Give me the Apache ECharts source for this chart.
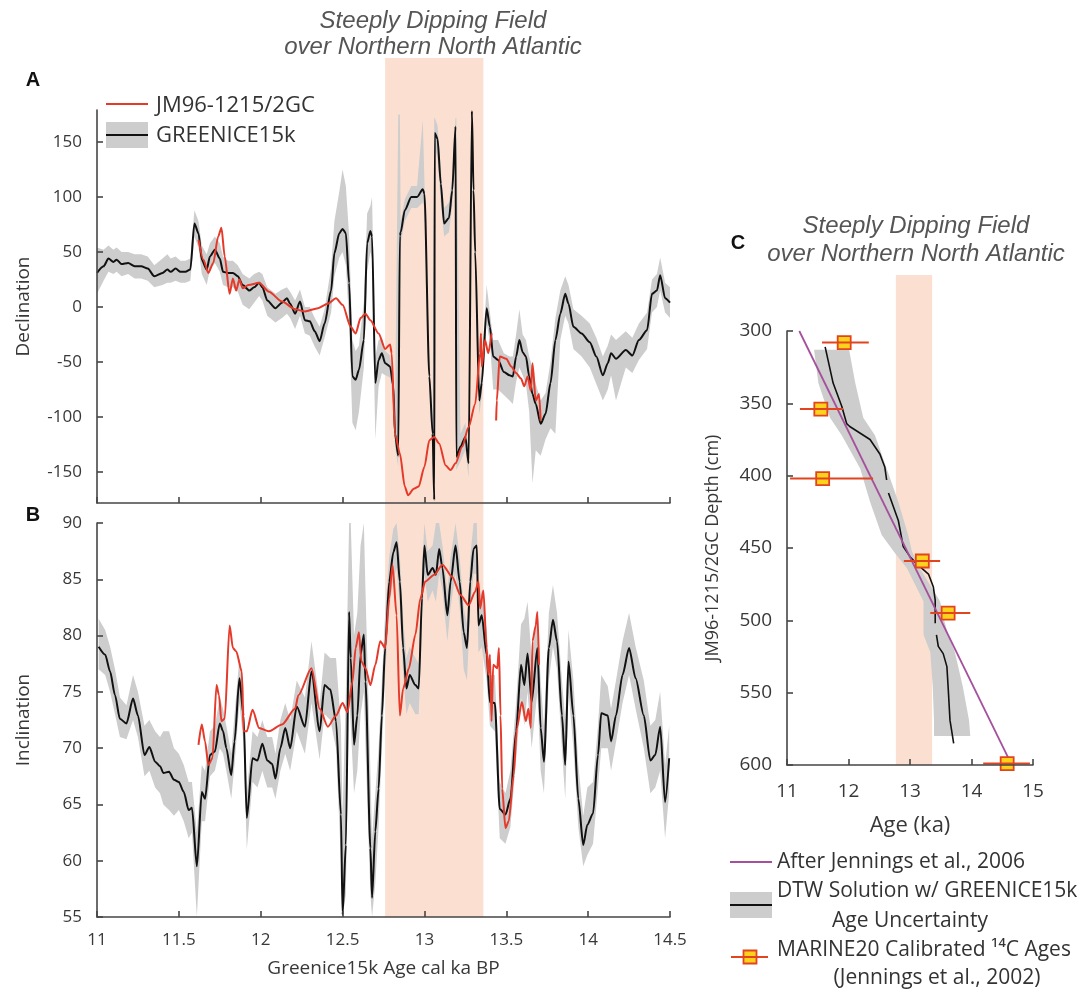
<!DOCTYPE html>
<html>
<head>
<meta charset="utf-8">
<script src="https://cdn.jsdelivr.net/npm/echarts@6/dist/echarts.min.js"></script>
<style>
  html, body { margin: 0; padding: 0; background: #fff; }
  #chart { width: 1090px; height: 991px; }
</style>
</head>
<body>
<div id="chart"></div>
<script>
// ---------- Shared interval of the steeply dipping field (ka) ----------
const shadeAB = [12.76, 13.36];
const shadeC = [12.77, 13.36];

// ---------- Panel A: declination ----------
const decAge = [11.00,11.04,11.07,11.10,11.12,11.15,11.19,11.23,11.27,11.31,11.35,11.40,11.43,11.45,11.48,11.51,11.54,11.57,11.595,11.62,
  11.64,11.67,11.69,11.72,11.75,11.77,11.80,11.83,11.86,11.89,11.93,11.96,11.99,12.01,12.04,12.09,12.13,12.16,12.18,12.21,
  12.24,12.27,12.30,12.33,12.36,12.39,12.43,12.45,12.48,12.50,12.52,12.54,12.56,12.58,12.60,12.63,12.65,12.67,12.68,12.70,
  12.72,12.74,12.76,12.79,12.81,12.82,12.84,12.85,12.855,12.88,12.92,12.955,12.99,13.00,13.03,13.05,13.06,13.063,13.08,13.10,
  13.12,13.15,13.17,13.19,13.195,13.22,13.25,13.27,13.29,13.30,13.31,13.335,13.35,13.38,13.40,13.42,13.45,13.485,13.52,13.54,
  13.56,13.58,13.60,13.62,13.64,13.66,13.68,13.71,13.74,13.77,13.80,13.83,13.86,13.88,13.91,13.96,14.01,14.05,14.09,14.12,
  14.14,14.17,14.23,14.27,14.31,14.36,14.39,14.42,14.44,14.47,14.50];
const decVal = [31,37,44,41,43,39,40,37,37,35,28,31,34,32,35,32,32,34,76,67,
  43,34,46,52,44,32,31,31,28,20,15,18,22,18,6,-1,4,8,3,-6,
  5,-12,-13,-22,-31,-15,15,49,67,71,67,22,-63,-66,-57,-30,58,69,64,-69,
  -48,-42,-51,-54,-72,-115,-135,65,68,88,100,100,107,103,-63,-115,-175,158,153,112,
  76,81,106,164,-136,-127,-118,-142,178,106,50,-85,-69,-1,-18,-45,-48,-59,-62,-63,
  -45,-30,-41,-45,-63,-79,-88,-106,-97,-69,-30,-6,12,3,-18,-24,-32,-45,-62,-51,
  -42,-47,-39,-44,-30,-21,12,15,29,8,4];
const decLo = [12,24,32,30,32,28,30,26,26,24,18,20,22,22,24,22,22,24,64,54,
  30,20,34,40,32,20,18,18,14,2,-2,4,10,6,-8,-14,-10,-6,-10,-20,
  -8,-24,-26,-36,-44,-28,-5,28,45,50,38,-15,-105,-112,-95,-55,32,50,44,-120,
  -72,-60,-62,-64,-84,-126,-145,52,58,78,90,90,95,90,-75,-125,-178,145,135,95,
  64,68,92,150,-148,-140,-130,-155,160,90,35,-98,-82,-15,-32,-75,-75,-80,-85,-88,
  -68,-55,-62,-70,-95,-160,-130,-135,-120,-110,-115,-30,-8,-15,-38,-45,-55,-70,-85,-75,
  -62,-85,-55,-60,-48,-38,-5,0,15,-5,-10];
const decHi = [54,52,56,52,54,50,50,48,48,46,38,44,48,44,46,42,42,44,88,78,
  56,48,58,64,58,46,42,42,38,30,26,30,32,30,18,12,16,18,14,6,
  16,0,0,-10,-18,-2,36,78,105,125,110,65,-30,-40,-35,5,85,92,100,-45,
  -30,-28,-40,-44,-60,-100,175,175,78,98,110,110,170,115,-50,-100,172,172,165,125,
  90,95,120,172,172,-115,-105,-128,178,120,65,-70,-55,20,-5,-30,-30,-42,-45,-45,
  -25,-2,-25,-30,-45,-55,-70,-85,-78,-50,-10,15,28,20,-2,-8,-15,-28,-45,-35,
  -25,-30,-22,-28,-15,-5,25,30,45,22,18];

const jmDecAge = [11.62,11.65,11.68,11.71,11.74,11.76,11.78,11.81,11.83,11.85,11.87,11.89,11.925,11.99,12.05,12.13,12.21,12.27,12.35,12.41,
  12.46,12.50,12.55,12.58,12.61,12.64,12.67,12.72,12.76,12.79,12.80,12.82,12.85,12.88,12.90,12.935,12.965,13.00,13.03,13.06,
  13.09,13.13,13.16,13.19,13.23,13.27,13.31,13.34,13.345,13.35,13.37,13.39,13.41,13.425,13.438,13.442,13.46,13.50,13.53,13.56,
  13.59,13.61,13.63,13.65,13.66,13.68,13.70,13.71];
const jmDecVal = [61,43,31,40,64,72,46,12,26,15,25,17,20,22,14,5,-2,-4,-1,3,
  8,2,-18,-24,-10,-6,-12,-24,-38,-34,-42,-115,-133,-163,-171,-165,-163,-145,-121,-118,
  -124,-144,-148,-142,-127,-109,-88,-42,-24,-54,-30,-42,-24,null,-103,-85,-45,-47,-54,-60,
  -65,-72,-63,-76,-51,-85,-79,-103];

// ---------- Panel B: inclination ----------
const incAge = [11.01,11.05,11.08,11.11,11.14,11.18,11.22,11.25,11.29,11.32,11.355,11.385,11.405,11.44,11.47,11.50,11.53,11.56,11.58,11.61,
  11.64,11.66,11.69,11.72,11.75,11.77,11.79,11.82,11.84,11.87,11.895,11.915,11.95,11.98,12.01,12.04,12.07,12.09,12.12,12.15,
  12.18,12.22,12.27,12.31,12.36,12.39,12.425,12.46,12.49,12.50,12.52,12.54,12.55,12.57,12.59,12.61,12.63,12.64,12.67,12.68,
  12.70,12.72,12.74,12.76,12.785,12.81,12.83,12.85,12.87,12.89,12.91,12.945,12.965,12.985,13.00,13.02,13.05,13.07,13.09,13.11,
  13.14,13.16,13.19,13.215,13.24,13.26,13.28,13.30,13.32,13.33,13.35,13.38,13.40,13.43,13.46,13.495,13.525,13.56,13.59,13.61,
  13.63,13.655,13.69,13.71,13.73,13.76,13.785,13.81,13.84,13.86,13.88,13.91,13.94,13.97,13.995,14.03,14.06,14.08,14.12,14.14,
  14.17,14.21,14.25,14.29,14.34,14.38,14.41,14.44,14.47,14.495];
const incVal = [79.0,78.3,76.8,74.7,72.6,72.2,74.4,72.9,69.4,70.1,68.8,68.4,67.8,67.9,67.2,67.0,66.1,64.5,64.7,59.5,
  66.1,65.5,69.4,69.7,72.2,71.5,70.0,67.6,70.6,76.2,72.9,63.8,69.1,68.9,70.4,68.9,68.6,67.3,70.0,71.8,
  70.0,73.7,71.9,76.8,71.5,75.6,75.2,72.4,64.1,55.2,61.4,82.1,78.0,70.3,72.9,78.3,80.1,75.9,61.1,56.7,
  62.6,66.4,72.9,78.9,84.8,87.4,88.3,84.8,78.9,75.3,76.5,75.6,75.3,83.3,88.0,85.4,86.0,85.4,87.7,86.0,
  81.8,84.8,88.0,84.8,80.3,78.9,84.8,87.7,88.0,80.9,81.8,78.3,74.1,74.0,64.6,64.1,65.5,71.5,77.4,75.6,
  78.4,74.1,78.9,71.8,68.8,78.9,81.4,79.5,72.9,68.5,77.7,72.9,65.5,61.4,63.2,64.2,69.4,73.1,72.9,70.6,
  72.9,76.5,78.9,76.2,72.9,68.9,69.4,71.9,65.2,69.1];
const incLo = [77.0,76.5,75.0,73.0,71.0,70.8,72.5,71.0,67.5,68.0,66.5,66.0,65.0,64.5,64.0,64.5,63.5,62.0,62.5,55.0,
  63.5,63.5,67.5,68.0,70.0,69.5,68.0,65.5,68.5,74.0,70.5,61.0,67.0,66.5,68.0,66.5,66.5,65.5,68.0,69.5,
  68.0,71.5,69.5,74.0,69.0,73.0,72.5,70.0,60.0,55.0,57.0,75.0,72.0,66.0,68.0,73.0,75.0,70.0,57.0,55.0,
  58.0,63.0,70.0,76.5,82.5,85.0,86.0,82.5,76.5,73.0,74.0,73.0,73.0,81.0,85.5,83.0,84.0,83.0,85.5,84.0,
  79.5,82.5,85.5,82.5,77.0,76.0,82.5,85.5,85.5,78.5,79.0,76.0,72.0,71.5,62.0,61.5,63.0,69.0,74.5,72.0,
  75.0,70.0,75.0,68.0,66.0,76.0,79.0,77.0,70.0,65.5,75.0,70.0,63.0,59.5,60.5,61.5,66.5,70.0,70.0,68.0,
  70.5,74.0,76.5,73.5,70.0,66.0,66.5,68.0,62.0,66.0];
const incHi = [81.5,80.5,79.0,77.0,74.5,73.8,76.5,75.0,72.0,72.5,71.5,71.0,71.5,71.5,70.0,69.5,68.5,67.0,67.0,62.5,
  68.5,68.0,71.5,72.0,74.5,73.5,72.0,69.5,73.0,78.0,75.5,66.0,71.5,71.0,72.5,71.0,71.0,69.5,72.5,74.0,
  72.5,76.0,74.5,79.5,74.0,78.5,78.0,78.0,72.0,64.0,75.0,90.0,90.0,80.0,82.0,88.0,90.0,84.0,68.0,62.0,
  66.0,70.0,76.0,82.0,87.0,89.5,90.0,87.0,81.5,78.0,79.0,78.0,77.5,86.0,90.0,87.5,88.0,90.0,90.0,88.0,
  84.0,87.0,90.0,87.0,82.5,81.0,87.0,90.0,90.0,83.0,84.0,80.5,76.5,76.5,67.0,66.0,68.0,74.0,81.0,81.5,
  83.0,78.0,82.0,76.0,72.0,82.0,84.5,82.0,76.0,72.5,80.5,76.0,68.5,64.0,66.5,67.0,72.0,76.5,75.5,73.5,
  76.0,79.5,82.0,79.0,76.0,72.0,72.5,75.0,68.5,72.0];

const jmIncAge = [11.62,11.64,11.66,11.68,11.705,11.73,11.745,11.76,11.78,11.81,11.83,11.85,11.885,11.895,11.915,11.95,11.99,12.05,12.13,12.21,
  12.23,12.31,12.36,12.41,12.46,12.50,12.53,12.56,12.58,12.60,12.615,12.64,12.67,12.70,12.73,12.76,12.785,12.805,12.83,12.85,
  12.87,12.905,12.945,12.975,13.005,13.06,13.11,13.17,13.22,13.27,13.31,13.33,13.34,13.36,13.38,13.39,13.40,13.41,13.42,13.445,
  13.455,13.465,13.475,13.495,13.515,13.545,13.565,13.595,13.62,13.635,13.65,13.66,13.68,13.69,13.70];
const jmIncVal = [70.3,72.1,70.6,68.5,69.1,75.6,74.7,72.4,72.6,80.9,78.9,78.6,76.8,71.5,71.5,73.4,71.8,71.5,72.1,73.5,
  74.7,77.1,73.5,71.9,72.9,74.0,73.2,75.9,78.9,80.3,77.7,77.1,75.6,77.4,79.5,78.9,83.3,86.3,81.8,72.9,
  75.3,77.1,80.1,83.3,84.8,85.4,86.3,85.2,83.6,82.7,83.9,84.8,82.4,84.0,78.9,76.5,78.3,72.4,77.4,77.1,
  78.9,72.9,66.4,62.9,63.5,67.6,71.8,74.1,72.4,73.5,71.8,79.5,80.9,82.1,77.4];

// ---------- Panel C: age-depth model ----------
const jenAge = [11.2, 14.62];
const jenDepth = [300, 597];

const dtwAge = [11.62,11.75,11.89,11.97,12.02,12.35,12.51,12.59,12.62,null,12.65,12.81,12.89,13.00,13.11,13.30,13.38,13.41,13.41,null,
  13.43,13.46,13.54,13.60,13.62,13.65,13.71];
const dtwDepth = [311,336,352,364,366,375,385,394,403,null,412,431,449,456,461,468,477,486,502,null,
  510,518,523,532,546,569,585];

const dtwBandDepth = [313,336,360,372,395,418,441,452,464,487,499,510,522,546,569,580];
const dtwBandLo = [11.44,11.51,11.70,11.89,12.19,12.35,12.54,12.73,12.95,13.22,13.22,13.22,13.33,13.37,13.39,13.39];
const dtwBandHi = [12.01,12.11,12.24,12.43,12.62,12.81,12.97,13.03,13.16,13.49,13.55,13.62,13.73,13.86,13.96,13.98];

const c14Age = [11.93, 11.55, 11.58, 13.20, 13.62, 14.58];
const c14Depth = [308, 354, 402, 459, 495, 599];
const c14Lo = [11.57, 11.21, 11.05, 12.90, 13.33, 14.19];
const c14Hi = [12.33, 11.91, 12.40, 13.49, 13.98, 14.95];

// ---------- Styling ----------
const AXC = '#464646';
const TXC = '#383838';
const FONT = '"Open Sans", Lato, sans-serif';
const TFONT = '"Liberation Sans", Arial, sans-serif';
const RED = '#e5392a';
const BAND = '#cdcdcd';
const SHADE = '#fbe0d1';
const PURPLE = '#a5509c';
const YEL = '#fdd21a';
const MRED = '#e2441f';

const zip = (xs, ys) => xs.map((x, i) => [x, ys[i]]);

function valueAxis(grid, opt) {
  return Object.assign({
    gridIndex: grid, type: 'value', z: 10,
    axisLine: { show: true, onZero: false, lineStyle: { color: AXC, width: 1.6 } },
    axisTick: { show: true, inside: true, length: 6, lineStyle: { color: AXC, width: 1.6 } },
    axisLabel: { show: true, color: TXC, fontSize: 17, fontFamily: FONT, margin: 15 },
    splitLine: { show: false },
    nameTextStyle: { color: TXC, fontSize: 19, fontFamily: FONT }
  }, opt);
}
function hiddenAxis(grid, min, max) {
  return { gridIndex: grid, type: 'value', min, max, show: false, splitLine: { show: false } };
}

// Gray uncertainty envelope drawn as one polygon through the axis scales
function envelope(xi, yi, xs, lo, hi) {
  return {
    type: 'custom', xAxisIndex: xi, yAxisIndex: yi, z: 2, silent: true,
    data: [[xs[0], lo[0]]],
    renderItem: (params, api) => {
      const pts = [];
      for (let i = 0; i < xs.length; i++) pts.push(api.coord([xs[i], hi[i]]));
      for (let i = xs.length - 1; i >= 0; i--) pts.push(api.coord([xs[i], lo[i]]));
      return { type: 'polygon', shape: { points: pts }, style: { fill: BAND } };
    }
  };
}
function shade(xi, yi, range) {
  return {
    type: 'custom', xAxisIndex: xi, yAxisIndex: yi, z: 1, silent: true,
    data: [[range[0], 0]],
    renderItem: (params, api) => {
      const a = api.coord([range[0], 1]);
      const b = api.coord([range[1], 0]);
      return { type: 'rect', shape: { x: a[0], y: a[1], width: b[0] - a[0], height: b[1] - a[1] }, style: { fill: SHADE } };
    }
  };
}
function line(xi, yi, data, color, width, z, smooth) {
  return {
    type: 'line', xAxisIndex: xi, yAxisIndex: yi, data, z: z || 3,
    showSymbol: false, symbol: 'none', connectNulls: false, silent: true,
    smooth: smooth || false, smoothMonotone: 'x',
    lineStyle: { color, width, join: 'round' }, emphasis: { disabled: true }
  };
}

const pegsC = c14Age.map((a, i) => [a, c14Depth[i], c14Lo[i], c14Hi[i]]);

const chart = echarts.init(document.getElementById('chart'), null, { renderer: 'canvas' });

const labelC = { show: true, color: TXC, fontSize: 19, fontFamily: FONT };
const legendText = (x, y, text, size, align) => ({
  type: 'text', x, y,
  style: { text, textAlign: align || 'left', textVerticalAlign: 'middle', fontSize: size, fontFamily: FONT, fill: '#333' }
});
const titleText = (x, y, text) => ({
  type: 'text', x, y,
  style: { text, textAlign: 'center', textVerticalAlign: 'middle', fontSize: 24, fontStyle: 'italic', fontFamily: TFONT, fill: '#555555' }
});
const panelTag = (x, y, text) => ({
  type: 'text', x, y,
  style: { text, textAlign: 'center', textVerticalAlign: 'middle', fontSize: 20, fontWeight: 'bold', fontFamily: TFONT, fill: '#111' }
});

chart.setOption({
  animation: false,
  backgroundColor: '#ffffff',
  grid: [
    { left: 97, top: 110, width: 573, height: 393 },
    { left: 97, top: 523, width: 573, height: 394 },
    { left: 787, top: 331, width: 246, height: 434 },
    { left: 97, top: 58, width: 573, height: 859 },
    { left: 787, top: 275, width: 246, height: 490 }
  ],
  xAxis: [
    valueAxis(0, { min: 11, max: 14.5, interval: 0.5, axisLabel: { show: false } }),
    valueAxis(1, { min: 11, max: 14.5, interval: 0.5,
      axisLabel: { show: true, color: TXC, fontSize: 17, fontFamily: FONT, margin: 15 },
      name: 'Greenice15k Age cal ka BP', nameLocation: 'middle', nameGap: 42 }),
    valueAxis(2, { min: 11, max: 15, interval: 1,
      axisLabel: Object.assign({ margin: 17 }, labelC),
      name: 'Age (ka)', nameLocation: 'middle', nameGap: 50,
      nameTextStyle: { color: TXC, fontSize: 22, fontFamily: FONT } }),
    hiddenAxis(3, 11, 14.5),
    hiddenAxis(4, 11, 15)
  ],
  yAxis: [
    valueAxis(0, { min: -178, max: 179,
      axisTick: { show: true, inside: true, length: 6, lineStyle: { color: AXC, width: 1.6 },
        customValues: [-150, -100, -50, 0, 50, 100, 150] },
      axisLabel: { show: true, color: TXC, fontSize: 17, fontFamily: FONT, margin: 15,
        customValues: [-150, -100, -50, 0, 50, 100, 150] },
      name: 'Declination', nameLocation: 'middle', nameGap: 64 }),
    valueAxis(1, { min: 55, max: 90, interval: 5,
      name: 'Inclination', nameLocation: 'middle', nameGap: 64 }),
    valueAxis(2, { min: 300, max: 600, interval: 50, inverse: true,
      axisLabel: Object.assign({ margin: 15 }, labelC),
      name: 'JM96-1215/2GC Depth (cm)', nameLocation: 'middle', nameGap: 65,
      nameTextStyle: { color: TXC, fontSize: 18, fontFamily: FONT } }),
    hiddenAxis(3, 0, 1),
    hiddenAxis(4, 0, 1)
  ],
  series: [
    shade(3, 3, shadeAB),
    shade(4, 4, shadeC),

    envelope(0, 0, decAge, decLo, decHi),
    line(0, 0, zip(decAge, decVal), '#111111', 2, 3, 0.25),
    line(0, 0, zip(jmDecAge, jmDecVal), RED, 2, 4, 0.25),

    envelope(1, 1, incAge, incLo, incHi),
    line(1, 1, zip(incAge, incVal), '#111111', 2, 3, 0.25),
    line(1, 1, zip(jmIncAge, jmIncVal), RED, 2, 4, 0.25),

    {
      type: 'custom', xAxisIndex: 2, yAxisIndex: 2, z: 2, silent: true,
      data: [[dtwBandLo[0], dtwBandDepth[0]]],
      renderItem: (params, api) => {
        const pts = [];
        for (let i = 0; i < dtwBandDepth.length; i++) pts.push(api.coord([dtwBandLo[i], dtwBandDepth[i]]));
        for (let i = dtwBandDepth.length - 1; i >= 0; i--) pts.push(api.coord([dtwBandHi[i], dtwBandDepth[i]]));
        return { type: 'polygon', shape: { points: pts }, style: { fill: BAND } };
      }
    },
    line(2, 2, zip(dtwAge, dtwDepth), '#111111', 1.6),
    line(2, 2, zip(jenAge, jenDepth), PURPLE, 1.8, 4),
    {
      type: 'custom', xAxisIndex: 2, yAxisIndex: 2, z: 5, silent: true,
      data: pegsC,
      renderItem: (params, api) => {
        const c = api.coord([api.value(0), api.value(1)]);
        const l = api.coord([api.value(2), api.value(1)]);
        const r = api.coord([api.value(3), api.value(1)]);
        const s = 13;
        return {
          type: 'group',
          children: [
            { type: 'rect', shape: { x: c[0] - s / 2, y: c[1] - s / 2, width: s, height: s },
              style: { fill: YEL, stroke: MRED, lineWidth: 1.8 } },
            { type: 'line', shape: { x1: l[0], y1: l[1], x2: r[0], y2: r[1] },
              style: { stroke: MRED, lineWidth: 2 } }
          ]
        };
      }
    }
  ],
  graphic: [
    titleText(433, 21, 'Steeply Dipping Field'),
    titleText(433, 47, 'over Northern North Atlantic'),
    titleText(916, 226, 'Steeply Dipping Field'),
    titleText(916, 254, 'over Northern North Atlantic'),
    panelTag(33, 80, 'A'),
    panelTag(33, 515, 'B'),
    panelTag(738, 243, 'C'),

    // legend, panel A
    { type: 'line', shape: { x1: 106, y1: 104, x2: 148, y2: 104 }, style: { stroke: RED, lineWidth: 2.2 } },
    legendText(156, 106, 'JM96-1215/2GC', 22),
    { type: 'rect', shape: { x: 106, y: 122, width: 42, height: 26 }, style: { fill: BAND } },
    { type: 'line', shape: { x1: 106, y1: 135, x2: 148, y2: 135 }, style: { stroke: '#111', lineWidth: 2.2 } },
    legendText(156, 136, 'GREENICE15k', 22),

    // legend, panel C
    { type: 'line', shape: { x1: 730, y1: 862, x2: 772, y2: 862 }, style: { stroke: PURPLE, lineWidth: 1.8 } },
    legendText(777, 862, 'After Jennings et al., 2006', 21),
    { type: 'rect', shape: { x: 730, y: 892, width: 42, height: 26 }, style: { fill: BAND } },
    { type: 'line', shape: { x1: 730, y1: 905, x2: 772, y2: 905 }, style: { stroke: '#111', lineWidth: 1.8 } },
    legendText(777, 891, 'DTW Solution w/ GREENICE15k', 21),
    legendText(910, 921, 'Age Uncertainty', 21, 'center'),
    { type: 'line', shape: { x1: 731, y1: 957, x2: 768, y2: 957 }, style: { stroke: MRED, lineWidth: 2 } },
    { type: 'rect', shape: { x: 743.5, y: 950.5, width: 13, height: 13 }, style: { fill: YEL, stroke: MRED, lineWidth: 1.8 } },
    { type: 'line', shape: { x1: 743.5, y1: 957, x2: 756.5, y2: 957 }, style: { stroke: MRED, lineWidth: 2 } },
    legendText(777, 950, 'MARINE20 Calibrated \u00B9\u2074C Ages', 21),
    legendText(937, 978, '(Jennings et al., 2002)', 21, 'center')
  ]
});
</script>
</body>
</html>
